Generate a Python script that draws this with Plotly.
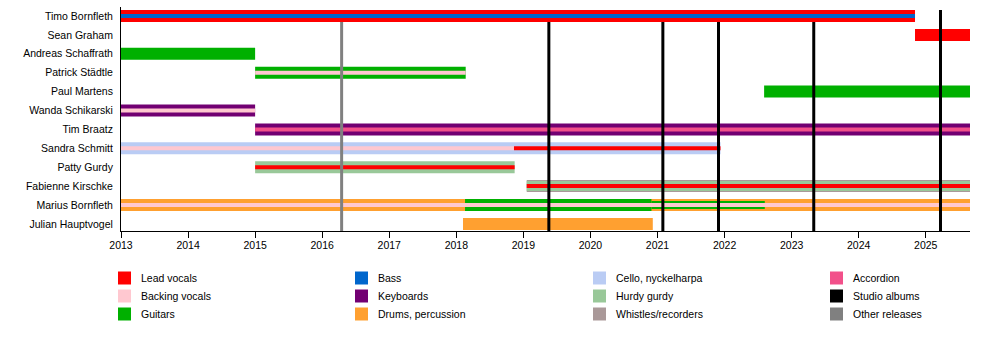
import plotly.graph_objects as go

# ---------------- data ----------------
members = ["Timo Bornfleth", "Sean Graham", "Andreas Schaffrath", "Patrick Städtle",
           "Paul Martens", "Wanda Schikarski", "Tim Braatz", "Sandra Schmitt",
           "Patty Gurdy", "Fabienne Kirschke", "Marius Bornfleth", "Julian Hauptvogel"]

START = 2013.0
END = 2025.66

# segments: member, role, start, end, layer
seg_member = ["Sean Graham", "Andreas Schaffrath", "Patrick Städtle", "Patrick Städtle",
              "Paul Martens", "Wanda Schikarski", "Wanda Schikarski",
              "Tim Braatz", "Tim Braatz",
              "Sandra Schmitt", "Sandra Schmitt", "Sandra Schmitt",
              "Patty Gurdy", "Patty Gurdy",
              "Fabienne Kirschke", "Fabienne Kirschke", "Fabienne Kirschke",
              "Marius Bornfleth", "Marius Bornfleth", "Marius Bornfleth", "Marius Bornfleth",
              "Julian Hauptvogel"]
seg_role = ["Lead vocals", "Guitars", "Guitars", "Backing vocals",
            "Guitars", "Keyboards", "Backing vocals",
            "Keyboards", "Accordion",
            "Cello, nyckelharpa", "Backing vocals", "Lead vocals",
            "Hurdy gurdy", "Lead vocals",
            "Whistles/recorders", "Hurdy gurdy", "Lead vocals",
            "Drums, percussion", "Guitars", "Guitars", "Backing vocals",
            "Drums, percussion"]
seg_start = [2024.84, 2013.0, 2015.0, 2015.0,
             2022.59, 2013.0, 2013.0,
             2015.0, 2015.0,
             2013.0, 2013.0, 2018.86,
             2015.0, 2015.0,
             2019.05, 2019.05, 2019.05,
             2013.0, 2018.13, 2020.91, 2013.0,
             2018.10]
seg_end = [END, 2015.0, 2018.14, 2018.14,
           END, 2015.0, 2015.0,
           END, END,
           2021.94, 2018.86, 2021.94,
           2018.87, 2018.87,
           END, END, END,
           END, 2020.91, 2022.60, END,
           2020.93]
seg_layer = ["full", "full", "full", "thin",
             "full", "full", "thin",
             "full", "inner",
             "full", "inner", "inner",
             "full", "inner",
             "full", "mid2", "inner",
             "full", "full", "mid", "inner",
             "full"]

# Timo Bornfleth (drawn on top of the release lines)
top_member = ["Timo Bornfleth", "Timo Bornfleth"]
top_role = ["Lead vocals", "Bass"]
top_start = [2013.0, 2013.0]
top_end = [2024.84, 2024.84]
top_layer = ["full", "inner"]

studio_albums = [2019.38, 2021.08, 2021.91, 2023.33, 2025.22]
other_releases = [2016.29]

years = list(range(2013, 2026))

legend_labels = ["Lead vocals", "Backing vocals", "Guitars",
                 "Bass", "Keyboards", "Drums, percussion",
                 "Cello, nyckelharpa", "Hurdy gurdy", "Whistles/recorders",
                 "Accordion", "Studio albums", "Other releases"]

# ---------------- styles ----------------
colors = {
    "Lead vocals": "#FF0000",
    "Backing vocals": "#FFC8D0",
    "Guitars": "#00B000",
    "Bass": "#0066CC",
    "Keyboards": "#720072",
    "Drums, percussion": "#FFA030",
    "Cello, nyckelharpa": "#BACCF4",
    "Hurdy gurdy": "#99C899",
    "Whistles/recorders": "#AA9999",
    "Accordion": "#F2508A",
    "Studio albums": "#000000",
    "Other releases": "#808080",
}
layer_width = {"full": 12, "mid": 8, "mid2": 10, "inner": 4, "thin": 4}

FONT = "Liberation Sans, Arial, sans-serif"
FS = 10
W, H = 1000, 350
L, R, T, B = 121, 30, 7, 119
plot_w = W - L - R
plot_h = H - T - B

row_px = 18.9
first_row_px = 16 - T
y_top = -first_row_px / row_px
y_bot = y_top + plot_h / row_px
line_top = y_top + 3 / row_px

fig = go.Figure()


def add_segments(mems, roles, starts, ends, layers):
    for m, r, s, e, ly in zip(mems, roles, starts, ends, layers):
        yi = members.index(m)
        fig.add_trace(go.Scatter(x=[s, e], y=[yi, yi], mode="lines",
                                 line=dict(color=colors[r], width=layer_width[ly]),
                                 hoverinfo="skip", showlegend=False))


add_segments(seg_member, seg_role, seg_start, seg_end, seg_layer)

for xv in other_releases:
    fig.add_trace(go.Scatter(x=[xv, xv], y=[line_top, y_bot], mode="lines",
                             line=dict(color=colors["Other releases"], width=3),
                             hoverinfo="skip", showlegend=False, cliponaxis=False))
for xv in studio_albums:
    fig.add_trace(go.Scatter(x=[xv, xv], y=[line_top, y_bot], mode="lines",
                             line=dict(color=colors["Studio albums"], width=3),
                             hoverinfo="skip", showlegend=False, cliponaxis=False))

add_segments(top_member, top_role, top_start, top_end, top_layer)

# ---------------- legend (manual) ----------------
col_sq_px = [118, 355, 593, 830]
row_px_leg = [278, 296, 314]
shapes = []
annots = []
for i, lab in enumerate(legend_labels):
    c, r = divmod(i, 3)
    sx = col_sq_px[c]
    sy = row_px_leg[r]
    x0 = (sx - L) / plot_w
    x1 = (sx + 13 - L) / plot_w
    y0 = (T + plot_h - (sy + 6.5)) / plot_h
    y1 = (T + plot_h - (sy - 6.5)) / plot_h
    shapes.append(dict(type="rect", xref="paper", yref="paper", x0=x0, x1=x1, y0=y0, y1=y1,
                       fillcolor=colors[lab], line=dict(width=0)))
    annots.append(dict(xref="paper", yref="paper", x=(sx + 21 - L) / plot_w,
                       y=(T + plot_h - sy) / plot_h, text=lab, showarrow=False,
                       xanchor="left", yanchor="middle",
                       font=dict(family=FONT, size=FS + 0.5, color="#000000")))

fig.update_layout(
    width=W, height=H,
    margin=dict(l=L, r=R, t=T, b=B, pad=0),
    paper_bgcolor="white", plot_bgcolor="white",
    showlegend=False,
    font=dict(family=FONT, size=FS, color="#000000"),
    shapes=shapes, annotations=annots,
    xaxis=dict(range=[START, END], tickvals=years, ticktext=[str(y) for y in years],
               ticks="outside", ticklen=6, tickwidth=1, tickcolor="black",
               showline=True, linecolor="black", linewidth=1,
               showgrid=False, zeroline=False, fixedrange=True,
               ticklabelstandoff=-2,
               tickfont=dict(family=FONT, size=FS + 0.5, color="#000000")),
    yaxis=dict(range=[y_bot, y_top], tickvals=list(range(len(members))), ticktext=members,
               ticks="", showline=True, linecolor="black", linewidth=1,
               showgrid=False, zeroline=False, fixedrange=True,
               ticklabelstandoff=5,
               tickfont=dict(family=FONT, size=FS + 0.5, color="#000000")),
)

fig.write_html("out.html")
